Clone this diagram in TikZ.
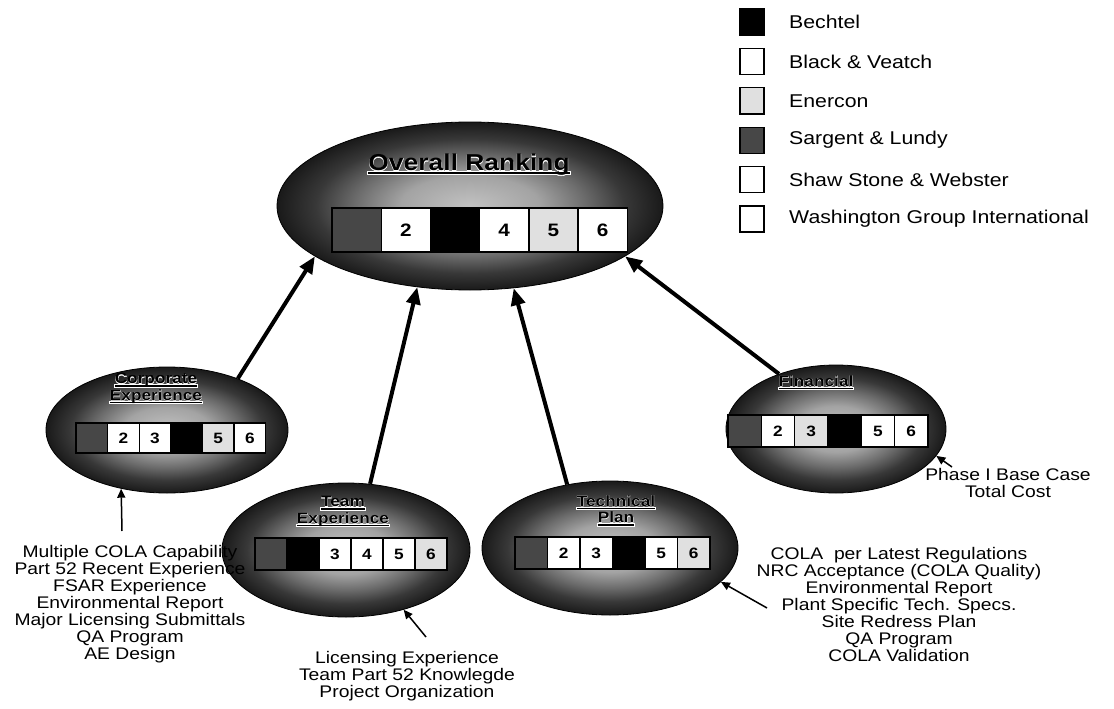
\documentclass[tikz,border=0pt]{standalone}
\usepackage{fontspec}
\setmainfont{Liberation Sans}[FakeStretch=1.15]
\newfontfamily\halofont{Liberation Sans}[FakeStretch=1.15, FakeBold=2.5]
\usetikzlibrary{shapes.geometric, arrows.meta}

% dark rim, greyish centre (25bp is the rim of the filled path)
\pgfdeclareradialshading{ovalshade}{\pgfpoint{0bp}{0bp}}{%
  color(0bp)=(black!24); color(9bp)=(black!36); color(15bp)=(black!58);
  color(20bp)=(black!78); color(25bp)=(black!90); color(50bp)=(black!90)}

% firm colours
\colorlet{bech}{black}
\colorlet{slc}{black!72}
\colorlet{ener}{black!12}

% underlined title text with a white glow behind it
\newcommand\titleul[1]{\leavevmode\setbox0=\hbox{#1}%
  \rlap{\kern-1pt\color{white}\rule[-4pt]{\dimexpr\wd0+2pt\relax}{3.5pt}}%
  \rlap{\color{white}\halofont #1}%
  \rlap{\rule[-3pt]{\wd0}{1.5pt}}\box0}
\newcommand\bignumfont{\fontsize{18}{18}\selectfont\bfseries}
\newcommand\smallnumfont{\fontsize{15}{15}\selectfont\bfseries}

% one row of six ranking cells: name, left x, centre y, cell width, cell height, font, fill/label list
\newcommand\rankrow[7]{%
  \foreach \f/\t [count=\i] in {#7} {
    \node[cell, fill=\f, minimum width=#4pt, minimum height=#5pt, font=#6] (#1-\i) at ({#2+(\i-0.5)*#4}, #3) {\t};
  }}

\begin{document}
\begin{tikzpicture}[x=1pt, y=-1pt,
  oval/.style={ellipse, draw=black, line width=0.8pt, shade, shading=ovalshade, inner sep=0pt},
  cell/.style={draw=black, line width=1.4pt, inner sep=0pt},
  bigtitle/.style={font=\fontsize{23}{25}\selectfont\bfseries, inner sep=0pt},
  smalltitle/.style={font=\fontsize{15}{16.5}\selectfont\bfseries, align=center, inner sep=0pt},
  notes/.style={font=\fontsize{16.8}{17}\selectfont, align=center, inner sep=0pt},
  keybox/.style={draw=black, line width=1.4pt, minimum width=24pt, minimum height=26pt, inner sep=0pt},
  keytext/.style={font=\fontsize{18.5}{20}\selectfont, anchor=west, inner sep=0pt},
  feed/.style={line width=4pt, -{Triangle[length=17pt, width=14pt]}},
  note/.style={line width=1.5pt, -{Triangle[length=9pt, width=8pt]}}]

\useasboundingbox (0,0) rectangle (1114,709);

% legend
\foreach \c/\t [count=\i] in {bech/Bechtel, white/{Black \& Veatch}, ener/Enercon,
    slc/{Sargent \& Lundy}, white/{Shaw Stone \& Webster}, white/{Washington Group International}} {
  \node[keybox, fill=\c] (key-\i) at (752, {22+39.4*(\i-1)}) {};
  \node[keytext] (keylabel-\i) at (789, {22+39.4*(\i-1)}) {\t};
}

% ovals
\node[oval, minimum width=386pt, minimum height=168pt] (ovr) at (470,206) {};
\node[oval, minimum width=242pt, minimum height=126pt] (corp) at (167,430) {};
\node[oval, minimum width=248pt, minimum height=134pt] (team) at (346,550) {};
\node[oval, minimum width=256pt, minimum height=134pt] (tech) at (610,548) {};
\node[oval, minimum width=220pt, minimum height=128pt] (fin) at (836,429) {};

% titles
\node[bigtitle] (ovr-title) at (469,165) {\titleul{Overall Ranking}};
\node[smalltitle] (corp-title) at (156,389) {\titleul{Corporate}\\\titleul{Experience}};
\node[smalltitle] (team-title) at (343,512) {\titleul{Team}\\\titleul{Experience}};
\node[smalltitle] (tech-title) at (616,511) {\titleul{Technical}\\\titleul{Plan}};
\node[smalltitle] (fin-title) at (816,383) {\titleul{Financial}};

% ranking cells
\rankrow{ovr}{332}{230}{49.2}{44}{\bignumfont}{slc/{}, white/2, bech/{}, white/4, ener/5, white/6}
\rankrow{corp}{76}{438}{31.6}{30}{\smallnumfont}{slc/{}, white/2, white/3, bech/{}, ener/5, white/6}
\rankrow{team}{255}{554}{32}{32}{\smallnumfont}{slc/{}, bech/{}, white/3, white/4, white/5, ener/6}
\rankrow{tech}{515}{553}{32.5}{32}{\smallnumfont}{slc/{}, white/2, white/3, bech/{}, white/5, ener/6}
\rankrow{fin}{728}{431}{33.3}{32}{\smallnumfont}{slc/{}, white/2, ener/3, bech/{}, white/5, white/6}

% criteria feeding the overall ranking
\draw[feed] (corp.36) -- (ovr.198);
\draw[feed] (team.70) -- (ovr.237);
\draw[feed] (tech.124) -- (ovr.298);
\draw[feed] (fin.136) -- (ovr.342);

% criteria notes
\node[notes] (corp-notes) at (130,604) {Multiple COLA Capability\\Part 52 Recent Experience\\FSAR Experience\\Environmental Report\\Major Licensing Submittals\\QA Program\\AE Design};
\node[notes] (team-notes) at (407,676) {Licensing Experience\\Team Part 52 Knowlegde\\Project Organization};
\node[notes] (tech-notes) at (899,604) {COLA\ \ per Latest Regulations\\NRC Acceptance (COLA Quality)\\Environmental Report\\Plant Specific Tech. Specs.\\Site Redress Plan\\QA Program\\COLA Validation};
\node[notes] (fin-notes) at (1008,483) {Phase I Base Case\\Total Cost};

\coordinate (corp-src) at (122,531);
\coordinate (team-src) at (426,637);
\coordinate (tech-src) at (767,608);
\coordinate (fin-src) at (952,467);
\draw[note] (corp-src) -- (corp.232);
\draw[note] (team-src) -- (team.314);
\draw[note] (tech-src) -- (tech.343);
\draw[note] (fin-src) -- (fin.345);

\end{tikzpicture}
\end{document}
